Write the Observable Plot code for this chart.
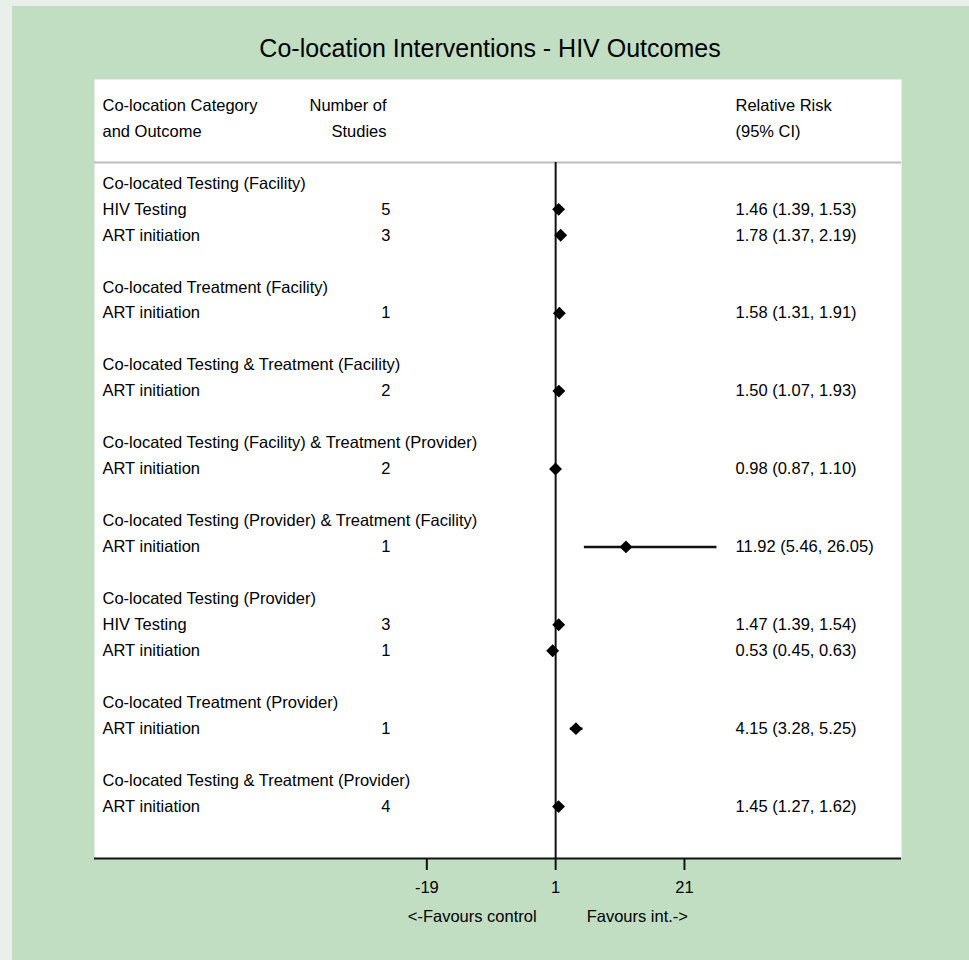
<!DOCTYPE html>
<html><head><meta charset="utf-8">
<script src="https://cdn.jsdelivr.net/npm/d3@7"></script>
<script src="https://cdn.jsdelivr.net/npm/@observablehq/plot@0.6"></script>
<style>
html,body{margin:0;padding:0;background:#c1dec3;overflow:hidden;}
#chart svg{display:block;box-shadow:inset 12px 6px 0 0 #e9f0e9;}
</style></head><body><div id="chart"></div>
<script>
const title = "Co-location Interventions - HIV Outcomes";
const categories = [
  "Co-located Testing (Facility)",
  "Co-located Treatment (Facility)",
  "Co-located Testing & Treatment (Facility)",
  "Co-located Testing (Facility) & Treatment (Provider)",
  "Co-located Testing (Provider) & Treatment (Facility)",
  "Co-located Testing (Provider)",
  "Co-located Treatment (Provider)",
  "Co-located Testing & Treatment (Provider)"
];
const rowCategory = [0, 0, 1, 2, 3, 4, 5, 5, 6, 7];
const rowOutcome = ["HIV Testing", "ART initiation", "ART initiation", "ART initiation", "ART initiation",
  "ART initiation", "HIV Testing", "ART initiation", "ART initiation", "ART initiation"];
const nStudies = [5, 3, 1, 2, 2, 1, 3, 1, 1, 4];
const rr     = [1.46, 1.78, 1.58, 1.50, 0.98, 11.92, 1.47, 0.53, 4.15, 1.45];
const ciLow  = [1.39, 1.37, 1.31, 1.07, 0.87, 5.46, 1.39, 0.45, 3.28, 1.27];
const ciHigh = [1.53, 2.19, 1.91, 1.93, 1.10, 26.05, 1.54, 0.63, 5.25, 1.62];
const headerLeft = ["Co-location Category", "and Outcome"];
const headerStudies = ["Number of", "Studies"];
const headerRR = ["Relative Risk", "(95% CI)"];
const xTicks = [-19, 1, 21];
const favourLabels = ["<-Favours control", "Favours int.->"];
const nullValue = 1;

const f2 = d3.format(".2f");
const catRows = [], dataRows = [];
let r = 0;
categories.forEach((c, ci) => {
  catRows.push({label: c, row: r}); r++;
  rowCategory.forEach((k, i) => {
    if (k === ci) {
      dataRows.push({outcome: rowOutcome[i], n: String(nStudies[i]), rr: rr[i], lo: ciLow[i], hi: ciHigh[i], row: r,
        text: `${f2(rr[i])} (${f2(ciLow[i])}, ${f2(ciHigh[i])})`});
      r++;
    }
  });
  r++;
});
const bottomRow = r;
const headRows = [-3, -2];
const sepRow = -0.8;

const chart = Plot.plot({
  width: 969, height: 960,
  marginLeft: 94, marginRight: 68, marginTop: 79, marginBottom: 102,
  style: {background: "#c1dec3", fontFamily: "'Liberation Sans', Arial, sans-serif", fontSize: "16.5px", color: "#000", overflow: "visible"},
  x: {domain: [-70.6, 54.7]},
  y: {domain: [-4, bottomRow], reverse: true, axis: null},
  marks: [
    Plot.frame({fill: "white", stroke: null}),
    Plot.ruleY([sepRow], {stroke: "#bdbdbd", strokeWidth: 2}),
    Plot.ruleX([nullValue], {y1: sepRow, y2: bottomRow, stroke: "#111", strokeWidth: 2}),
    Plot.ruleY([bottomRow], {stroke: "#111", strokeWidth: 2}),
    Plot.axisX({ticks: xTicks, tickFormat: d => String(d), tickSize: 12, tickPadding: 11, strokeWidth: 2, stroke: "#111", fontSize: 16.5, label: null, anchor: "bottom"}),
    Plot.text([title], {frameAnchor: "top", dy: -40, dx: -8, fontSize: 25, fill: "#000"}),
    Plot.text(headerLeft, {y: (d, i) => headRows[i], text: d => d, frameAnchor: "left", dx: 8, textAnchor: "start", fill: "#000"}),
    Plot.text(headerStudies, {y: (d, i) => headRows[i], text: d => d, frameAnchor: "left", dx: 292, textAnchor: "end", fill: "#000"}),
    Plot.text(headerRR, {y: (d, i) => headRows[i], text: d => d, frameAnchor: "left", dx: 641, textAnchor: "start", fill: "#000"}),
    Plot.text(catRows, {y: "row", text: "label", frameAnchor: "left", dx: 8, textAnchor: "start", fill: "#000"}),
    Plot.text(dataRows, {y: "row", text: "outcome", frameAnchor: "left", dx: 8, textAnchor: "start", fill: "#000"}),
    Plot.text(dataRows, {y: "row", text: "n", frameAnchor: "left", dx: 296, textAnchor: "end", fill: "#000"}),
    Plot.text(dataRows, {y: "row", text: "text", frameAnchor: "left", dx: 641, textAnchor: "start", fill: "#000"}),
    Plot.ruleY(dataRows, {y: "row", x1: "lo", x2: "hi", stroke: "#111", strokeWidth: 2.5}),
    Plot.dot(dataRows, {x: "rr", y: "row", symbol: "diamond2", r: 5.8, fill: "#000", stroke: null}),
    Plot.text([favourLabels[0]], {x: nullValue, y: bottomRow, dy: 58, dx: -19, textAnchor: "end", text: d => d, fill: "#000"}),
    Plot.text([favourLabels[1]], {x: nullValue, y: bottomRow, dy: 58, dx: 31, textAnchor: "start", text: d => d, fill: "#000"})
  ]
});
document.getElementById("chart").appendChild(chart);
</script></body></html>
